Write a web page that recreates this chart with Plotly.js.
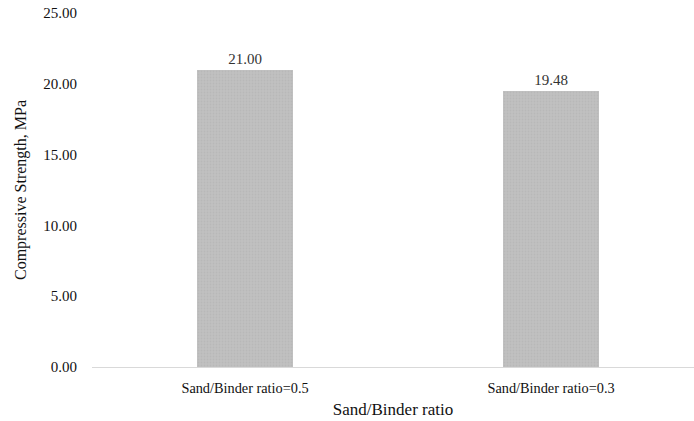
<!DOCTYPE html>
<html>
<head>
<meta charset="utf-8">
<script src="https://cdn.plot.ly/plotly-3.0.1.min.js"></script>
<style>
  html, body { margin: 0; padding: 0; background: #ffffff; }
  #chart { width: 694px; height: 421px; }
</style>
</head>
<body>
<div id="chart"></div>
<script>
// Compressive strength for two sand/binder mixes
const categories = ["Sand/Binder ratio=0.5", "Sand/Binder ratio=0.3"];
const strengthMPa = [21.00, 19.48];
const yTickValues = [0, 5, 10, 15, 20, 25];

const serif = "Liberation Serif";

const trace = {
  type: "bar",
  x: [0, 1],
  y: strengthMPa,
  width: 0.314,
  marker: {
    color: "#bfbfbf",
    line: { width: 0 },
    pattern: { shape: ".", fgcolor: "#b8b8b8", bgcolor: "#c1c1c1", size: 3, solidity: 0.3 }
  },
  texttemplate: "%{y:.2f}",
  textposition: "outside",
  cliponaxis: false,
  textfont: { family: serif, size: 15, color: "#333333" },
  hoverinfo: "none"
};

const layout = {
  width: 694,
  height: 421,
  margin: { l: 92, r: 0, t: 13, b: 54 },
  paper_bgcolor: "#ffffff",
  plot_bgcolor: "#ffffff",
  showlegend: false,
  font: { family: serif, size: 15, color: "#111111" },
  bargap: 0,
  xaxis: {
    range: [-0.5, 1.467],
    tickvals: [0, 1],
    ticktext: categories,
    showgrid: false,
    zeroline: false,
    showline: true,
    linecolor: "#d9d9d9",
    linewidth: 1,
    ticks: "",
    ticklabelstandoff: 8,
    tickfont: { family: serif, size: 14.3, color: "#111111" },
    title: { text: "Sand/Binder ratio", font: { family: serif, size: 17, color: "#111111" }, standoff: 7 }
  },
  yaxis: {
    range: [0, 25],
    tickvals: yTickValues,
    tickformat: ".2f",
    showgrid: false,
    zeroline: false,
    showline: false,
    ticks: "",
    ticklabelstandoff: 14,
    tickfont: { family: serif, size: 15, color: "#111111" },
    title: { text: "Compressive Strength, MPa", font: { family: serif, size: 16, color: "#111111" }, standoff: 12 }
  }
};

Plotly.newPlot("chart", [trace], layout, { displayModeBar: false, staticPlot: true });
</script>
</body>
</html>
